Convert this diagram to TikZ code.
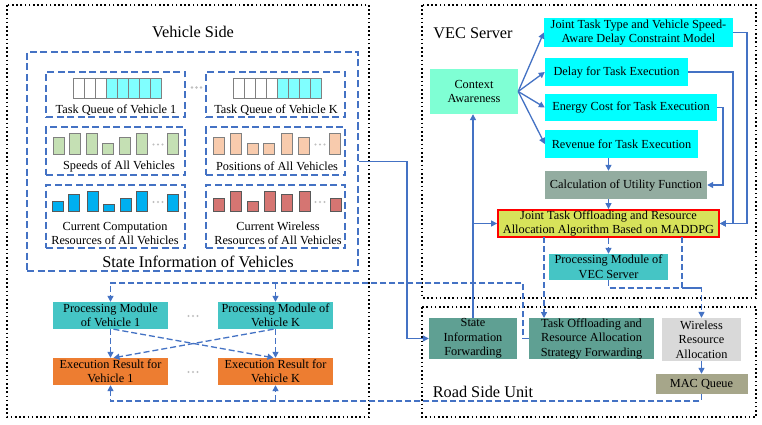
\documentclass[tikz,border=0pt]{standalone}
\usepackage{fontspec}
\setmainfont{Liberation Serif}
\usetikzlibrary{arrows.meta,calc}
\definecolor{lblue}{HTML}{4472C4}
\definecolor{qcyan}{HTML}{80FFFF}
\definecolor{spgreen}{HTML}{C5E0B4}
\definecolor{pospeach}{HTML}{F8CBAD}
\definecolor{compblue}{HTML}{00B0F0}
\definecolor{wlred}{HTML}{D57572}
\definecolor{pmteal}{HTML}{45C5C5}
\definecolor{erorange}{HTML}{ED7D31}
\definecolor{ctxaqua}{HTML}{7FFFD4}
\definecolor{boxcyan}{HTML}{00FFFF}
\definecolor{calcgray}{HTML}{93ACA0}
\definecolor{jointyel}{HTML}{D7E35A}
\definecolor{fwdteal}{HTML}{5FA093}
\definecolor{wragray}{HTML}{D9D9D9}
\definecolor{macolive}{HTML}{A6A68A}
\definecolor{dotgray}{HTML}{BFBFBF}
\begin{document}
\begin{tikzpicture}[x=1pt,y=-1pt,
  fbox/.style={draw=none, inner sep=0pt, align=center, text=black,
     font=\fontsize{12.3}{14.5}\selectfont},
  lbl/.style={inner sep=0pt, align=center, font=\fontsize{12.3}{14.5}\selectfont},
  ttl/.style={inner sep=0pt, font=\fontsize{16.3}{19}\selectfont},
  outer/.style={draw=black, line width=1.6pt, dash pattern=on 1.6pt off 2.6pt},
  dbox/.style={draw=lblue, line width=1.4pt, dash pattern=on 7pt off 3.5pt},
  arr/.style={draw=lblue, line width=1.3pt, -{Triangle[length=6pt,width=6pt]}},
  sline/.style={draw=lblue, line width=1.3pt},
  darr/.style={draw=lblue, line width=1.3pt, dash pattern=on 6pt off 3pt, -{Triangle[length=6pt,width=6pt]}},
  dline/.style={draw=lblue, line width=1.3pt, dash pattern=on 6pt off 3pt},
  cell/.style={draw=gray, line width=0.8pt},
  bar/.style={line width=0.9pt},
  ddot/.style={fill=dotgray, draw=none}
]
\useasboundingbox (0,0) rectangle (762,425);
\fill[white] (0,0) rectangle (762,425);

% outer dotted regions
\draw[outer] (7,5) rectangle (369,417);
\draw[outer] (422,5) rectangle (756,298);
\draw[outer] (422,307) rectangle (756,417);

\node[ttl] (tvs) at (193,32) {Vehicle Side};
\node[ttl] (tvec) at (473,33) {VEC Server};
\node[ttl] (trsu) at (483,392) {Road Side Unit};

% state information box
\node[dbox, minimum width=331pt, minimum height=219pt, inner sep=0pt] (state) at (192.5,161.5) {};
\node[ttl] (tstate) at (198,262) {State Information of Vehicles};

\node[dbox, minimum width=139pt, minimum height=45pt, inner sep=0pt] (tq1) at (115.5,94.5) {};
\node[dbox, minimum width=139pt, minimum height=45pt, inner sep=0pt] (tqk) at (275.5,94.5) {};
\node[dbox, minimum width=139pt, minimum height=48pt, inner sep=0pt] (spd) at (115.5,151) {};
\node[dbox, minimum width=139pt, minimum height=48pt, inner sep=0pt] (pos) at (275.5,151) {};
\node[dbox, minimum width=139pt, minimum height=63pt, inner sep=0pt] (cmp) at (115.5,216.5) {};
\node[dbox, minimum width=139pt, minimum height=63pt, inner sep=0pt] (wls) at (275.5,216.5) {};

% task queues
\foreach \i in {0,...,7} {
  \pgfmathsetmacro\xa{73+11*\i}
  \ifnum\i<3 \draw[cell, fill=white] (\xa,78) rectangle ++(11,20);
  \else \draw[cell, fill=qcyan] (\xa,78) rectangle ++(11,20); \fi
}
\foreach \i in {0,...,7} {
  \pgfmathsetmacro\xa{233+11*\i}
  \ifnum\i<4 \draw[cell, fill=white] (\xa,78) rectangle ++(11,20);
  \else \draw[cell, fill=qcyan] (\xa,78) rectangle ++(11,20); \fi
}
\foreach \x in {192,196.5,201} \fill[ddot] (\x,87.5) circle (1.4pt);
\node[lbl] (ltq1) at (116,110) {Task Queue of Vehicle 1};
\node[lbl] (ltqk) at (276,110) {Task Queue of Vehicle K};

% speeds
\foreach \x/\t in {53/137,69/133,86/133,102/143,119/137,136/133,167/133}
  \draw[bar, draw=gray, fill=spgreen] (\x,\t) rectangle (\x+11,154);
\foreach \x/\t in {213/137,230/133,247/143,263/143,281/133,298/137,329/133}
  \draw[bar, draw=gray, fill=pospeach] (\x,\t) rectangle (\x+11,154);
\foreach \x in {153.5,158,162.5} \fill[ddot] (\x,144.5) circle (1.2pt);
\foreach \x in {315.5,320,324.5} \fill[ddot] (\x,144.5) circle (1.2pt);
\node[lbl] (lspd) at (119,166) {Speeds of All Vehicles};
\node[lbl] (lpos) at (277,166) {Positions of All Vehicles};

% computation / wireless
\foreach \x/\t in {52/201,68/194,87/191,103/204,120/198,136/191,167/194}
  \draw[bar, draw=gray!70!black, fill=compblue] (\x,\t) rectangle (\x+11,211);
\foreach \x/\t in {213/198,230/191,247/201,264/191,281/194,299/191,330/198}
  \draw[bar, draw=gray!70!black, fill=wlred] (\x,\t) rectangle (\x+11,211);
\foreach \x in {153.5,158,162.5} \fill[ddot] (\x,202) circle (1.2pt);
\foreach \x in {315.5,320,324.5} \fill[ddot] (\x,202) circle (1.2pt);
\node[lbl] (lcmp) at (115,233.5) {Current Computation\\Resources of All Vehicles};
\node[lbl] (lwls) at (278,233.5) {Current Wireless\\Resources of All Vehicles};

% vehicle processing
\node[fbox, fill=pmteal, minimum width=115pt, minimum height=27pt] (pm1) at (110.5,315.5) {Processing Module\\of Vehicle 1};
\node[fbox, fill=pmteal, minimum width=115pt, minimum height=27pt] (pmk) at (275.5,315.5) {Processing Module of\\Vehicle K};
\node[fbox, fill=erorange, minimum width=115pt, minimum height=27pt] (er1) at (110.5,371.5) {Execution Result for\\Vehicle 1};
\node[fbox, fill=erorange, minimum width=115pt, minimum height=27pt] (erk) at (275.5,371.5) {Execution Result for\\Vehicle K};
\foreach \x in {188.5,193,197.5} \fill[ddot] (\x,316) circle (1.1pt);
\foreach \x in {188.5,193,197.5} \fill[ddot] (\x,372) circle (1.1pt);

% VEC server
\node[fbox, fill=ctxaqua, minimum width=88pt, minimum height=45pt] (ctx) at (474,91.5) {Context\\Awareness};
\node[fbox, fill=boxcyan, minimum width=189pt, minimum height=29pt] (jt) at (638.5,32.5) {Joint Task Type and Vehicle Speed-\\Aware Delay Constraint Model};
\node[fbox, fill=boxcyan, minimum width=143pt, minimum height=28pt] (delay) at (616.5,72) {Delay for Task Execution};
\node[fbox, fill=boxcyan, minimum width=172pt, minimum height=27pt] (energy) at (631,107.5) {Energy Cost for Task Execution};
\node[fbox, fill=boxcyan, minimum width=153pt, minimum height=28pt] (rev) at (621.5,144) {Revenue for Task Execution};
\node[fbox, fill=calcgray, minimum width=162pt, minimum height=28pt] (calc) at (626,185) {Calculation of Utility Function};
\node[fbox, fill=jointyel, draw=red, line width=1.8pt, minimum width=221pt, minimum height=27pt] (joint) at (608.5,223.5) {Joint Task Offloading and Resource\\Allocation Algorithm Based on MADDPG};
\node[fbox, fill=pmteal, minimum width=119pt, minimum height=26pt] (pmvec) at (608.5,267) {Processing Module of\\VEC Server};

% RSU
\node[fbox, fill=fwdteal, minimum width=88pt, minimum height=41pt] (sif) at (473,338.5) {State\\Information\\Forwarding};
\node[fbox, fill=fwdteal, minimum width=125pt, minimum height=41pt] (tof) at (591.5,338.5) {Task Offloading and\\Resource Allocation\\Strategy Forwarding};
\node[fbox, fill=wragray, minimum width=79pt, minimum height=43pt] (wra) at (701.5,339.5) {Wireless\\Resource\\Allocation};
\node[fbox, fill=macolive, minimum width=92pt, minimum height=20pt] (mac) at (701.5,384) {MAC Queue};

% coordinates
\coordinate (toprow) at (0,283);
\coordinate (botrow) at (0,401);
\coordinate (mergey) at (0,288);

% solid arrows
\draw[arr] (ctx.east) -- (jt.west);
\draw[arr] (ctx.east) -- (delay.west);
\draw[arr] (ctx.east) -- (energy.west);
\draw[arr] (ctx.east) -- (rev.west);
\draw[arr] (rev.south -| joint.north) -- (calc.north -| joint.north);
\draw[arr] (calc.south -| joint.north) -- (joint.north);
\draw[arr] (jt.east) -- (747,32.5) -- (747,223.5) -- (joint.east);
\draw[arr] (delay.east) -- (733,72) -- (733,223.5) -- (joint.east);
\draw[arr] (energy.east) -- (723,107.5) -- (723,185) -- (calc.east);
\draw[arr] (sif.north) -- (sif.north |- ctx.south);
\draw[arr] (sif.north |- joint.west) -- (joint.west);
\draw[arr] (state.east) -- (407,161.5) |- (sif.west);
\draw[arr] (wra.south) -- (mac.north);

% dashed arrows (VEC / RSU)
\draw[darr] (544,237) -- (544,318);
\draw[darr] (joint.south) -- (pmvec.north);
\draw[darr] (pmvec.south) |- (701.5,288) -- (wra.north);
\draw[dline] (682,237) |- (701.5,288);

% dashed to vehicles
\draw[darr] (tof.west) -- (523,338.5) -- (523,283) -| (pm1.north);
\draw[darr] (pmk.north |- toprow) -- (pmk.north);
\draw[darr] (pm1.south) -- (er1.north);
\draw[darr] (pmk.south) -- (erk.north);
\draw[darr] ([xshift=3pt]pm1.south) -- ([xshift=-2pt]erk.north);
\draw[darr] ([xshift=-2pt]pmk.south) -- ([xshift=3pt]er1.north);
\draw[darr] (mac.south) |- (botrow -| er1.south) -- (er1.south);
\draw[darr] (botrow -| erk.south) -- (erk.south);
\end{tikzpicture}
\end{document}
